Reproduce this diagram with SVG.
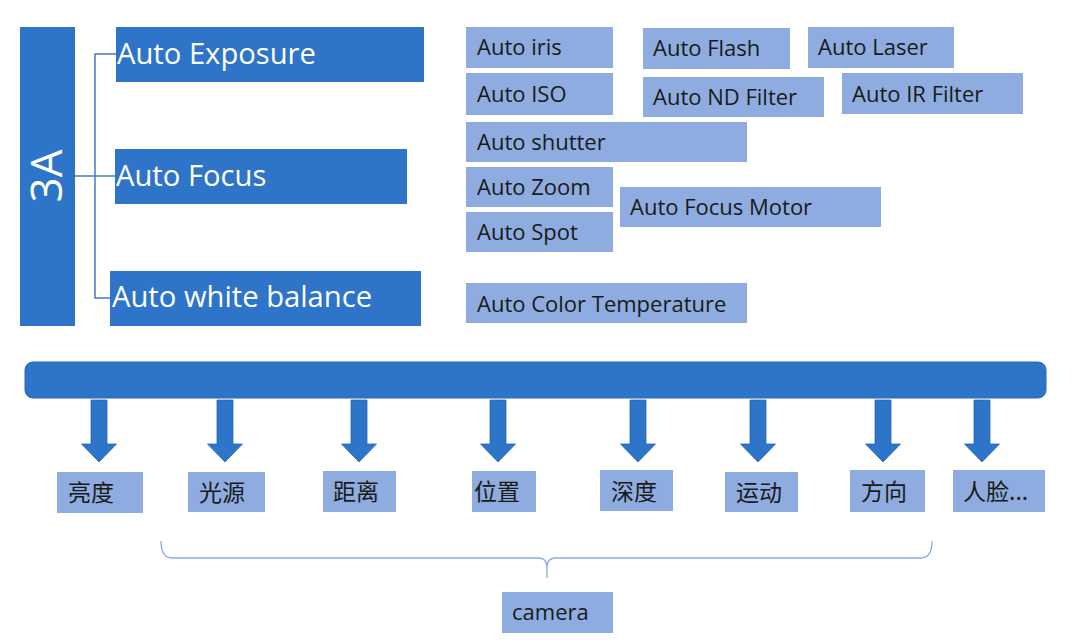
<svg xmlns="http://www.w3.org/2000/svg" width="1088" height="643" viewBox="0 0 1088 643">
<style>
.dk{fill:#2e74c8}
.lt{fill:#8eacdf}
.big{font-family:"Open Sans","Liberation Sans",sans-serif;font-size:29.2px;fill:#ffffff}
.sm{font-family:"Open Sans","Liberation Sans",sans-serif;font-size:22px;fill:#1a1a1a}
.cjk{font-family:"Noto Sans CJK SC","Noto Sans",sans-serif;font-size:23px;fill:#1a1a1a}
.ln{fill:none;stroke:#4a78c4;stroke-width:1.5}
.br{fill:none;stroke:#8eacdf;stroke-width:1.3}
.arw{fill:#2e74c8;stroke:#2a68b8;stroke-width:0.8}
</style>
<defs>
<path id="arr" d="M-8,400 H8 V444 H17.5 L0,462 L-17.5,444 H-8 Z"/>
</defs>
<rect width="1088" height="643" fill="#ffffff"/>

<g id="connectors">
<path class="ln" d="M75,176 H115 M116,54 H95 V298 H110"/>
<g class="arw">
<use href="#arr" x="99"/>
<use href="#arr" x="225"/>
<use href="#arr" x="359"/>
<use href="#arr" x="498"/>
<use href="#arr" x="638"/>
<use href="#arr" x="758"/>
<use href="#arr" x="883"/>
<use href="#arr" x="982"/>
</g>
<path class="br" d="M161,541 Q161,558 172,558 H538 Q547,558 547,567 V578 M547,567 Q547,558 556,558 H921 Q932,558 932,541"/>
</g>

<g id="n3A"><rect class="dk" x="20" y="27" width="55" height="299"/>
<text transform="translate(62,176) rotate(-90)" text-anchor="middle" font-family="Open Sans, Liberation Sans, sans-serif" font-size="44" fill="#ffffff">3A</text></g>

<g id="nAE"><rect class="dk" x="116" y="27" width="308" height="55"/><text class="big" x="117" y="64">Auto Exposure</text></g>
<g id="nAF"><rect class="dk" x="115" y="149" width="292" height="55"/><text class="big" x="116" y="186">Auto Focus</text></g>
<g id="nAWB"><rect class="dk" x="110" y="271" width="311" height="55"/><text class="big" x="112" y="307">Auto white balance</text></g>

<g id="nIris"><rect class="lt" x="466" y="27" width="147" height="41"/><text class="sm" x="477" y="55">Auto iris</text></g>
<g id="nFlash"><rect class="lt" x="643" y="28" width="147" height="41"/><text class="sm" x="653" y="56">Auto Flash</text></g>
<g id="nLaser"><rect class="lt" x="808" y="27" width="146" height="41"/><text class="sm" x="818" y="55">Auto Laser</text></g>
<g id="nISO"><rect class="lt" x="466" y="73" width="147" height="42"/><text class="sm" x="477" y="102">Auto ISO</text></g>
<g id="nND"><rect class="lt" x="643" y="77" width="181" height="40"/><text class="sm" x="653" y="105">Auto ND Filter</text></g>
<g id="nIR"><rect class="lt" x="842" y="73" width="181" height="41"/><text class="sm" x="852" y="102">Auto IR Filter</text></g>
<g id="nShutter"><rect class="lt" x="466" y="122" width="281" height="40"/><text class="sm" x="477" y="150">Auto shutter</text></g>
<g id="nZoom"><rect class="lt" x="466" y="167" width="147" height="40"/><text class="sm" x="477" y="195">Auto Zoom</text></g>
<g id="nSpot"><rect class="lt" x="466" y="212" width="147" height="40"/><text class="sm" x="477" y="240">Auto Spot</text></g>
<g id="nAFM"><rect class="lt" x="620" y="187" width="261" height="40"/><text class="sm" x="630" y="215">Auto Focus Motor</text></g>
<g id="nACT"><rect class="lt" x="466" y="283" width="281" height="40"/><text class="sm" x="477" y="312">Auto Color Temperature</text></g>

<g id="nBar"><rect x="25" y="362" width="1021" height="36" rx="8" fill="#2e74c8" stroke="#2a68b8" stroke-width="1"/></g>

<g id="nLiang"><rect class="lt" x="57" y="472" width="86" height="41"/><text class="cjk" x="68" y="501">亮度</text></g>
<g id="nGuang"><rect class="lt" x="188" y="472" width="77" height="40"/><text class="cjk" x="199" y="501">光源</text></g>
<g id="nJuli"><rect class="lt" x="323" y="471" width="73" height="41"/><text class="cjk" x="333" y="500">距离</text></g>
<g id="nWeizhi"><rect class="lt" x="472" y="471" width="64" height="41"/><text class="cjk" x="474" y="500">位置</text></g>
<g id="nShendu"><rect class="lt" x="600" y="470" width="73" height="41"/><text class="cjk" x="611" y="500">深度</text></g>
<g id="nYundong"><rect class="lt" x="725" y="472" width="73" height="40"/><text class="cjk" x="736" y="501">运动</text></g>
<g id="nFangxiang"><rect class="lt" x="850" y="470" width="75" height="42"/><text class="cjk" x="861" y="500">方向</text></g>
<g id="nRenlian"><rect class="lt" x="953" y="470" width="92" height="42"/><text class="cjk" x="963" y="500">人脸...</text></g>

<g id="nCamera"><rect class="lt" x="502" y="592" width="111" height="41"/><text class="sm" x="512" y="620">camera</text></g>
</svg>
